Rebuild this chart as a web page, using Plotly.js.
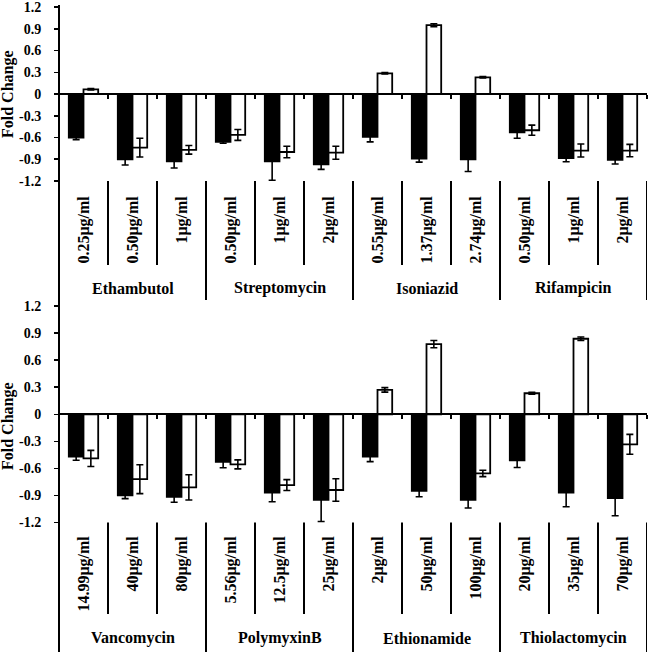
<!DOCTYPE html>
<html>
<head>
<meta charset="utf-8">
<script src="https://cdn.plot.ly/plotly-3.0.1.min.js"></script>
<style>html,body{margin:0;padding:0;background:#fff;}</style>
</head>
<body>
<div id="chart" style="width:650px;height:652px;"></div>
<script>
// ---- Data ----
const topConc = ['0.25μg/ml','0.50μg/ml','1μg/ml','0.50μg/ml','1μg/ml','2μg/ml','0.55μg/ml','1.37μg/ml','2.74μg/ml','0.50μg/ml','1μg/ml','2μg/ml'];
const topDrugs = ['Ethambutol','Streptomycin','Isoniazid','Rifampicin'];
const topBlack = [-0.60,-0.90,-0.93,-0.66,-0.93,-0.97,-0.59,-0.89,-0.90,-0.53,-0.885,-0.91];
const topBlackErr = [0.03,0.08,0.09,0.02,0.26,0.07,0.07,0.05,0.17,0.08,0.05,0.055];
const topWhite = [0.065,-0.74,-0.77,-0.565,-0.80,-0.81,0.285,0.95,0.23,-0.50,-0.78,-0.78];
const topWhiteErr = [0.01,0.13,0.06,0.075,0.08,0.09,0.01,0.02,0.01,0.07,0.09,0.085];

const botConc = ['14.99μg/ml','40μg/ml','80μg/ml','5.56μg/ml','12.5μg/ml','25μg/ml','2μg/ml','50μg/ml','100μg/ml','20μg/ml','35μg/ml','70μg/ml'];
const botDrugs = ['Vancomycin','PolymyxinB','Ethionamide','Thiolactomycin'];
const botBlack = [-0.47,-0.90,-0.915,-0.527,-0.87,-0.95,-0.47,-0.85,-0.95,-0.51,-0.87,-0.93];
const botBlackErr = [0.04,0.035,0.06,0.066,0.10,0.24,0.055,0.065,0.09,0.08,0.155,0.195];
const botWhite = [-0.49,-0.72,-0.81,-0.556,-0.785,-0.84,0.27,0.778,-0.656,0.233,0.837,-0.333];
const botWhiteErr = [0.09,0.16,0.14,0.05,0.06,0.125,0.025,0.04,0.035,0.01,0.02,0.11];

const yTickVals = [-1.2,-0.9,-0.6,-0.3,0,0.3,0.6,0.9,1.2];
const yTickText = ['-1.2','-0.9','-0.6','-0.3','0','0.3','0.6','0.9','1.2'];

// ---- Geometry (paper fractions of a 650x652 canvas) ----
const W = 650, H = 652;
const px = v => v / W;
const py = v => 1 - v / H;
const xDom = [px(59), px(647)];
const topDom = [py(181), py(7)];
const botDom = [py(522.5), py(306)];

const FONT = 'Liberation Serif';
const idx = topConc.map((_, i) => i);
const boundaries = idx.map(i => i + 0.5);

function bars(vals, errs, xa, ya, fill) {
  return {
    type: 'bar', x: idx, y: vals, xaxis: xa, yaxis: ya,
    marker: {color: fill, line: {color: '#000', width: 1.8}},
    error_y: {type: 'data', array: errs, visible: true, color: '#000', thickness: 1.6, width: 3.5},
    showlegend: false, hoverinfo: 'skip'
  };
}

const data = [
  bars(topBlack, topBlackErr, 'x', 'y', '#000'),
  bars(topWhite, topWhiteErr, 'x', 'y', '#fff'),
  bars(botBlack, botBlackErr, 'x2', 'y2', '#000'),
  bars(botWhite, botWhiteErr, 'x2', 'y2', '#fff')
];

function xAxis(dom) {
  return {
    domain: xDom, range: [-0.5, 11.5], anchor: 'free', position: (dom[0] + dom[1]) / 2,
    showline: true, linecolor: '#000', linewidth: 2,
    ticks: 'outside', tickvals: boundaries, ticklen: 4, tickwidth: 1.5, tickcolor: '#000',
    showticklabels: false, showgrid: false, zeroline: false, fixedrange: true
  };
}
function yAxis(dom, anchor) {
  return {
    domain: dom, range: [-1.2001, 1.2001], anchor: anchor,
    showline: false, ticks: 'outside', ticklen: 4, tickwidth: 1.5, tickcolor: '#000',
    tickvals: yTickVals, ticktext: yTickText, ticklabelstandoff: 10,
    ticklabeloverflow: 'allow',
    tickfont: {family: FONT, size: 14, color: '#000', weight: 'bold'},
    showgrid: false, zeroline: false, fixedrange: true
  };
}

const shapes = [];
const annotations = [];
const lineStyle = {color: '#000', width: 2};

// continuous left axis line
shapes.push({type: 'line', xref: 'paper', yref: 'paper', x0: xDom[0], x1: xDom[0], y0: 0, y1: py(5), line: lineStyle});

function table(xref, conc, drugs, yTop, yInnerEnd, yGroupEnd, yLabelTop, yDrug) {
  boundaries.forEach((b, i) => {
    const isGroup = (i + 1) % 3 === 0;
    shapes.push({type: 'line', xref: xref, yref: 'paper', x0: b, x1: b,
      y0: py(yTop), y1: py(isGroup ? yGroupEnd : yInnerEnd), line: lineStyle});
  });
  conc.forEach((t, i) => {
    annotations.push({xref: xref, yref: 'paper', x: i, y: py(yLabelTop), text: t,
      textangle: -90, showarrow: false, xanchor: 'center', yanchor: 'top',
      font: {family: FONT, size: 16, color: '#000', weight: 'bold'}});
  });
  drugs.forEach((d, g) => {
    annotations.push({xref: xref, yref: 'paper', x: g * 3 + 1, y: py(yDrug), text: d,
      showarrow: false, xanchor: 'center', yanchor: 'middle',
      font: {family: FONT, size: 16, color: '#000', weight: 'bold'}});
  });
}
table('x', topConc, topDrugs, 181, 265, 300, 194, 288);
table('x2', botConc, botDrugs, 522.5, 614, 652, 534, 638);

// y-axis titles
[94, 426].forEach(yc => {
  annotations.push({xref: 'paper', yref: 'paper', x: px(8), y: py(yc), text: 'Fold Change',
    textangle: -90, showarrow: false, xanchor: 'center', yanchor: 'middle',
    font: {family: FONT, size: 16, color: '#000', weight: 'bold'}});
});

const layout = {
  width: W, height: H,
  margin: {l: 0, r: 0, t: 0, b: 0, pad: 0},
  paper_bgcolor: '#fff', plot_bgcolor: 'rgba(0,0,0,0)',
  font: {family: FONT, color: '#000'},
  barmode: 'group', bargap: 0.4, bargroupgap: 0,
  xaxis: xAxis(topDom), yaxis: yAxis(topDom, 'x'),
  xaxis2: xAxis(botDom), yaxis2: yAxis(botDom, 'x2'),
  shapes: shapes, annotations: annotations,
  showlegend: false
};

Plotly.newPlot('chart', data, layout, {displayModeBar: false, staticPlot: true});
</script>
</body>
</html>
